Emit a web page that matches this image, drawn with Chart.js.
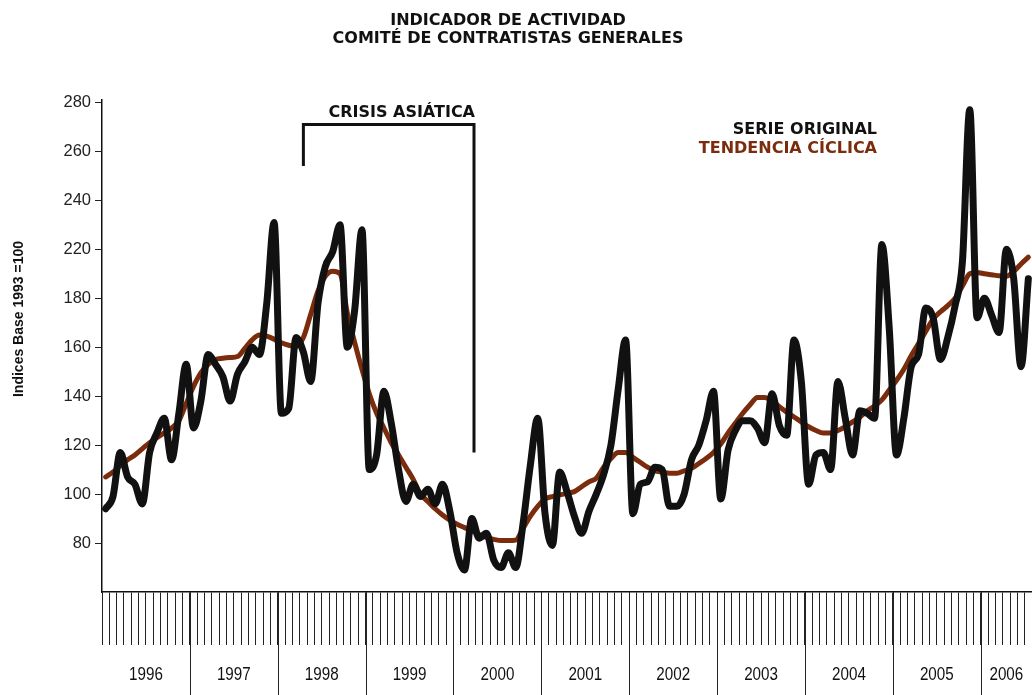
<!DOCTYPE html>
<html>
<head>
<meta charset="utf-8">
<script src="https://cdn.jsdelivr.net/npm/chart.js@4.4.1/dist/chart.umd.min.js"></script>
<style>
  html, body { margin: 0; padding: 0; background: #fff; }
</style>
</head>
<body>
<canvas id="myChart" width="1032" height="695"></canvas>
<script>
const titleLines = ['INDICADOR DE ACTIVIDAD', 'COMITÉ DE CONTRATISTAS GENERALES'];
const yTitle = 'Indices Base 1993 =100';
const years = ['1996', '1997', '1998', '1999', '2000', '2001', '2002', '2003', '2004', '2005', '2006'];
// tick positions on the plotted scale and the labels printed beside them
const yTickValues = [80, 100, 120, 140, 160, 180, 200, 220, 240, 260];
const yTickLabels = ['80', '100', '120', '140', '160', '180', '220', '240', '260', '280'];

// monthly values, Jan 1996 onwards
const serieOriginal = [94, 99, 117, 107, 104, 96, 117, 125, 131, 114,
    133, 153, 127, 138, 157, 153, 148, 138, 149, 154,
    160, 157, 178, 211, 133, 135, 164, 158, 146, 178,
    193, 199, 210, 160, 175, 208, 110, 116, 142, 129,
    110, 97, 104, 99, 102, 96, 104, 93, 76, 69,
    90, 82, 84, 73, 70, 76, 70, 88, 112, 131,
    92, 79, 109, 101, 91, 84, 93, 100, 108, 120,
    143, 163, 92, 104, 105, 111, 110, 95, 95, 100,
    114, 120, 130, 142, 98, 118, 126, 130, 130, 127,
    121, 141, 128, 124, 163, 146, 104, 116, 117, 110,
    146, 131, 116, 134, 133, 131, 202, 168, 116, 131,
    152, 157, 176, 172, 155, 164, 177, 195, 257, 172,
    180, 173, 166, 200, 188, 152, 188];
const tendenciaCiclica = [107, 109, 111.5, 114, 116, 118.5, 121, 123, 125, 127,
    130, 137, 144, 149.5, 153, 155, 155.5, 155.8, 156.2, 159.5,
    163, 165, 164.5, 163.3, 161.8, 160.8, 160.3, 164, 173.5, 183,
    189, 191, 190, 174, 162, 151, 141, 133, 127, 121,
    116, 111, 106, 100, 97, 94, 91.5, 89.4, 87.7, 86.3,
    85, 83.5, 82.3, 81.5, 81, 81, 81.2, 86, 91, 95,
    98, 99, 99.7, 100.3, 101, 103, 105, 106.5, 111, 114.5,
    117, 117, 115, 113, 111, 109.5, 109, 108.5, 108.5, 109.5,
    110.5, 112.5, 114.5, 117, 120.5, 125, 129, 133, 136.5, 139.5,
    139.5, 138, 135.7, 133.5, 131.5, 129.5, 127.5, 126, 125, 125,
    126, 127.5, 129.5, 131.5, 134, 136, 138.5, 142.5, 146.5, 151,
    156.5, 161.5, 166.5, 171.5, 174.5, 177, 180, 185, 190, 190.5,
    190, 189.6, 189.2, 189, 191, 194, 196.8];

// crisis bracket: start / end month, top level, left end level, right end level
const crisisMonths = [27.5, 50.8];
const crisisLevels = [251, 234, 117];

const toPoints = arr => arr.map((v, i) => ({ x: i + 0.5, y: v }));

const decor = {
    id: 'decor',
    afterDraw(chart) {
        const { ctx, chartArea, scales: { x, y } } = chart;
        ctx.save();
        ctx.fillStyle = '#111';
        ctx.textAlign = 'center';
        ctx.textBaseline = 'alphabetic';
        ctx.font = 'bold 16px "DejaVu Sans"';
        ctx.fillText(titleLines[0], 508, 25);
        ctx.fillText(titleLines[1], 508, 43);

        // y axis title
        ctx.save();
        ctx.translate(23, 319);
        ctx.rotate(-Math.PI / 2);
        ctx.font = 'bold 14px "Liberation Sans", Arial, sans-serif';
        ctx.fillText(yTitle, 0, 0);
        ctx.restore();

        // year boxes under the month ticks
        ctx.strokeStyle = '#222';
        ctx.lineWidth = 1;
        ctx.font = '19px "Liberation Sans", Arial, sans-serif';
        ctx.textBaseline = 'middle';
        for (let k = 0; k < years.length; k++) {
            const a = x.getPixelForValue(12 * k);
            const b = Math.min(x.getPixelForValue(12 * (k + 1)), chartArea.right);
            if (k > 0) {
                ctx.beginPath();
                ctx.moveTo(Math.round(a) + 0.5, chartArea.bottom);
                ctx.lineTo(Math.round(a) + 0.5, chart.height);
                ctx.stroke();
            }
            // condensed look of the printed year labels
            ctx.save();
            ctx.translate((a + b) / 2, 675);
            ctx.scale(0.8, 1);
            ctx.fillText(years[k], 0, 0);
            ctx.restore();
        }

        // crisis bracket
        const xl = x.getPixelForValue(crisisMonths[0]);
        const xr = x.getPixelForValue(crisisMonths[1]);
        const yt = y.getPixelForValue(crisisLevels[0]);
        ctx.strokeStyle = '#111';
        ctx.lineWidth = 3;
        ctx.beginPath();
        ctx.moveTo(xl, y.getPixelForValue(crisisLevels[1]));
        ctx.lineTo(xl, yt);
        ctx.lineTo(xr, yt);
        ctx.lineTo(xr, y.getPixelForValue(crisisLevels[2]));
        ctx.stroke();
        ctx.textAlign = 'right';
        ctx.textBaseline = 'alphabetic';
        ctx.font = 'bold 16px "DejaVu Sans"';
        ctx.fillText('CRISIS ASIÁTICA', xr + 1, yt - 7);

        // legend texts
        ctx.fillStyle = '#111';
        ctx.fillText('SERIE ORIGINAL', 877, 134);
        ctx.fillStyle = '#7a2c0c';
        ctx.fillText('TENDENCIA CÍCLICA', 877, 153);
        ctx.restore();
    }
};

const ctx = document.getElementById('myChart');
new Chart(ctx, {
    type: 'line',
    data: {
        datasets: [{
            label: 'SERIE ORIGINAL',
            data: toPoints(serieOriginal),
            borderColor: '#111',
            borderWidth: 7,
            pointRadius: 0,
            cubicInterpolationMode: 'monotone',
            borderCapStyle: 'round',
            borderJoinStyle: 'round'
        }, {
            label: 'TENDENCIA CÍCLICA',
            data: toPoints(tendenciaCiclica),
            borderColor: '#7a2c0c',
            borderWidth: 5,
            pointRadius: 0,
            cubicInterpolationMode: 'monotone',
            borderCapStyle: 'round'
        }, {
            // thin light core of the trend line
            label: 'core',
            data: toPoints(tendenciaCiclica),
            borderColor: 'rgba(238,198,110,0.8)',
            borderWidth: 1,
            pointRadius: 0,
            cubicInterpolationMode: 'monotone'
        }]
    },
    options: {
        responsive: false,
        animation: false,
        devicePixelRatio: 1,
        layout: { padding: { top: 100, right: 0, bottom: 0, left: 0 } },
        plugins: {
            legend: { display: false },
            tooltip: { enabled: false }
        },
        scales: {
            x: {
                type: 'linear',
                min: 0,
                max: 127,
                afterFit: s => { s.height = 103; },
                ticks: { display: false, stepSize: 1, maxTicksLimit: 500, autoSkip: false },
                grid: { drawOnChartArea: false, drawTicks: true, tickLength: 53, color: '#222', lineWidth: 1 },
                border: { display: true, color: '#111', width: 1.5 }
            },
            y: {
                min: 60,
                max: 261,
                afterFit: s => { s.width = 102; },
                afterBuildTicks: s => { s.ticks = yTickValues.map(v => ({ value: v })); },
                ticks: {
                    callback: (v, i) => yTickLabels[i],
                    color: '#222',
                    padding: 4,
                    font: { family: '"Liberation Sans", Arial, sans-serif', size: 16.5 }
                },
                grid: { drawOnChartArea: false, tickLength: 7, color: '#222' },
                border: { display: true, color: '#111', width: 1.5 }
            }
        }
    },
    plugins: [decor]
});
</script>
</body>
</html>
